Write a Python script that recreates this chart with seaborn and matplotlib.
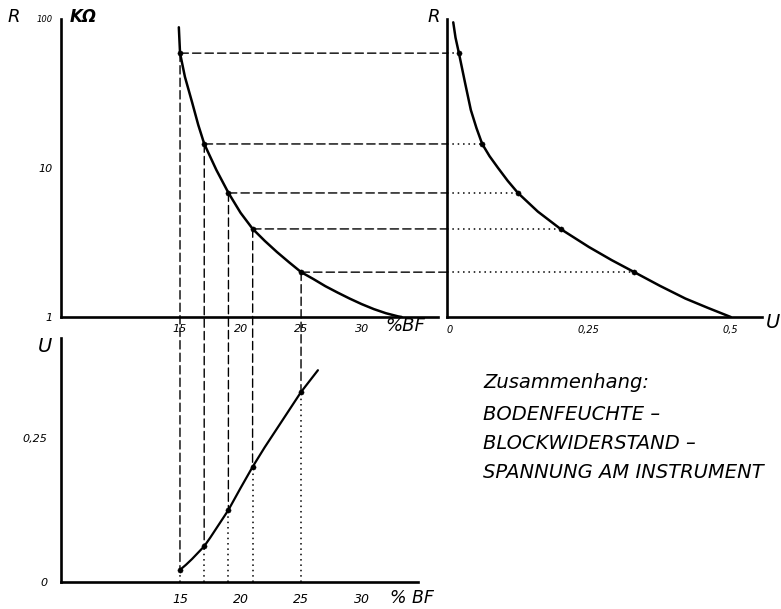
import numpy as np
import pandas as pd
import matplotlib
matplotlib.use("Agg")
import matplotlib.pyplot as plt
import seaborn as sns
from matplotlib.patches import ConnectionPatch
from matplotlib.ticker import FixedLocator, NullFormatter

# ---- data ----
bf_pts = [15, 17, 19, 21, 25]              # Bodenfeuchte %
r_pts = [59, 14.5, 6.8, 3.9, 2.0]          # Blockwiderstand kOhm
u_pts = [0.021, 0.062, 0.125, 0.20, 0.33]  # Spannung

curve1_bf = [14.9, 15.0, 15.4, 16, 16.5, 17, 18, 19, 20, 21, 22, 23, 24, 25,
             26, 27, 28, 29, 30, 31, 32, 33, 33.3]
curve1_r = [88, 59, 41, 27.5, 19.5, 14.5, 9.7, 6.8, 5.0, 3.9, 3.24, 2.73, 2.33, 2.0,
            1.8, 1.61, 1.46, 1.33, 1.22, 1.13, 1.06, 1.01, 1.0]

curve2_u = [0.011, 0.015, 0.021, 0.032, 0.042, 0.052, 0.062, 0.075, 0.09, 0.107, 0.125,
            0.16, 0.20, 0.25, 0.29, 0.33, 0.375, 0.42, 0.46, 0.5]
curve2_r = [95, 75, 59, 37, 24.5, 18.5, 14.5, 12.0, 10.0, 8.2, 6.8,
            5.1, 3.9, 2.95, 2.41, 2.0, 1.62, 1.33, 1.15, 1.0]

curve3_bf = [15, 15.5, 16, 16.5, 17, 17.5, 18, 18.5, 19, 20, 21, 22, 23, 24, 25, 26.4]
curve3_u = [0.021, 0.030, 0.040, 0.051, 0.062, 0.077, 0.093, 0.109, 0.125, 0.163, 0.20,
            0.234, 0.266, 0.298, 0.33, 0.368]

bf_ticks = [15, 20, 25, 30]
u_ticks_top = [0, 0.25, 0.5]
u_tick_labels_top = ["0", "0,25", "0,5"]
u_ticks_bot = [0, 0.25]
u_tick_labels_bot = ["0", "0,25"]
r_ticks = [1, 10, 100]
r_tick_labels = ["1", "10", "100"]

caption_title = "Zusammenhang:"
text_lines = ["BODENFEUCHTE –", "BLOCKWIDERSTAND –", "SPANNUNG AM INSTRUMENT"]

sns.set_style("white")
plt.rcParams["font.family"] = ["DejaVu Sans"]
plt.rcParams["text.color"] = "black"
plt.rcParams["xtick.color"] = "black"
plt.rcParams["ytick.color"] = "black"

W, H = 781, 609
fig = plt.figure(figsize=(W / 100, H / 100), dpi=100)

def box(x0, y0, x1, y1):
    return [x0 / W, 1 - y1 / H, (x1 - x0) / W, (y1 - y0) / H]

ax1 = fig.add_axes(box(61, 19, 438, 317))
ax2 = fig.add_axes(box(447, 19, 762, 317))
ax3 = fig.add_axes(box(61, 338, 418, 582))

K = "black"
LW_AX = 1.9
for ax in (ax1, ax2, ax3):
    ax.set_facecolor("white")
    for s in ("top", "right"):
        ax.spines[s].set_visible(False)
    for s in ("left", "bottom"):
        ax.spines[s].set_linewidth(LW_AX)
        ax.spines[s].set_color(K)
    ax.tick_params(which="both", direction="inout", color=K, width=1.0, labelcolor=K)
    ax.tick_params(which="major", length=4)
    ax.tick_params(which="minor", length=3)

# ---- panel 1: R vs %BF (log) ----
ax1.set_yscale("log")
ax1.set_xlim(5.17, 36.3)
ax1.set_ylim(1, 100)
d1 = pd.DataFrame({"bf": curve1_bf, "r": curve1_r})
sns.lineplot(data=d1, x="bf", y="r", ax=ax1, color=K, lw=1.8, sort=False, estimator=None)
sns.scatterplot(x=bf_pts, y=r_pts, ax=ax1, color=K, s=14, edgecolor=K, zorder=5)
ax1.set_xticks(bf_ticks)
ax1.set_xticklabels([str(t) for t in bf_ticks], fontsize=8, style="italic")
ax1.yaxis.set_major_locator(FixedLocator(r_ticks))
ax1.set_yticklabels(r_tick_labels, fontsize=8, style="italic")
ax1.yaxis.get_ticklabels()[2].set_fontsize(6)
ax1.yaxis.set_minor_locator(FixedLocator([m * 10 ** e for e in (0, 1) for m in range(2, 10)]))
ax1.yaxis.set_minor_formatter(NullFormatter())
ax1.tick_params(axis="x", pad=3)
ax1.tick_params(axis="y", pad=4)
ax1.set_xlabel("")
ax1.set_ylabel("")
fig.text(385 / W, 1 - 326 / H, "%BF", fontsize=13, style="italic", ha="left", va="center")
fig.text(8 / W, 1 - 17 / H, "R", fontsize=13, style="italic", ha="left", va="center")
fig.text(70 / W, 1 - 17 / H, "KΩ", fontsize=12, style="italic", weight="bold",
         ha="left", va="center")

# ---- panel 2: R vs U (log) ----
ax2.set_yscale("log")
ax2.set_xlim(0, 0.555)
ax2.set_ylim(1, 100)
d2 = pd.DataFrame({"u": curve2_u, "r": curve2_r})
sns.lineplot(data=d2, x="u", y="r", ax=ax2, color=K, lw=1.8, sort=False, estimator=None)
sns.scatterplot(x=u_pts, y=r_pts, ax=ax2, color=K, s=14, edgecolor=K, zorder=5)
ax2.set_xticks(u_ticks_top)
ax2.set_xticklabels(u_tick_labels_top, fontsize=7, style="italic")
ax2.get_xticklabels()[0].set_horizontalalignment("left")
ax2.yaxis.set_major_locator(FixedLocator(r_ticks))
ax2.yaxis.set_minor_locator(FixedLocator([m * 10 ** e for e in (0, 1) for m in range(2, 10)]))
ax2.yaxis.set_major_formatter(NullFormatter())
ax2.yaxis.set_minor_formatter(NullFormatter())
ax2.tick_params(axis="x", pad=4)
ax2.set_xlabel("")
ax2.set_ylabel("")
fig.text(428 / W, 1 - 17 / H, "R", fontsize=13, style="italic", ha="left", va="center")
fig.text(766 / W, 1 - 322 / H, "U", fontsize=14, style="italic", ha="left", va="center")

# ---- panel 3: U vs %BF ----
ax3.set_xlim(5.17, 34.67)
ax3.set_ylim(0, 0.424)
d3 = pd.DataFrame({"bf": curve3_bf, "u": curve3_u})
sns.lineplot(data=d3, x="bf", y="u", ax=ax3, color=K, lw=1.6, sort=False, estimator=None)
sns.scatterplot(x=bf_pts, y=u_pts, ax=ax3, color=K, s=14, edgecolor=K, zorder=5)
ax3.set_xticks(bf_ticks)
ax3.set_xticklabels([str(t) for t in bf_ticks], fontsize=9, style="italic")
ax3.set_yticks(u_ticks_bot)
ax3.set_yticklabels(u_tick_labels_bot, fontsize=8, style="italic")
ax3.tick_params(axis="x", pad=6)
ax3.tick_params(axis="y", pad=8)
ax3.set_xlabel("")
ax3.set_ylabel("")
fig.text(390 / W, 1 - 598 / H, "% BF", fontsize=12.5, style="italic", ha="left", va="center")
fig.text(38 / W, 1 - 346 / H, "U", fontsize=14, style="italic", ha="left", va="center")

# ---- construction lines ----
dash = (0, (6, 3))
dot = (0, (1, 2.5))
for bf, r, u in zip(bf_pts, r_pts, u_pts):
    con_h = ConnectionPatch(xyA=(bf, r), coordsA=ax1.transData,
                            xyB=(0, r), coordsB=ax2.transData,
                            linestyle=dash, lw=1.0, color=K)
    fig.add_artist(con_h)
    ax2.plot([0, u], [r, r], linestyle=dot, lw=1.1, color=K, clip_on=False)
    con_v = ConnectionPatch(xyA=(bf, r), coordsA=ax1.transData,
                            xyB=(bf, u), coordsB=ax3.transData,
                            linestyle=dash, lw=1.0, color=K)
    fig.add_artist(con_v)
    ax3.plot([bf, bf], [0, u], linestyle=dot, lw=1.1, color=K, clip_on=False)

# ---- caption ----
fig.text(483 / W, 1 - 383 / H, caption_title, fontsize=14, style="italic",
         ha="left", va="center")
for i, line in enumerate(text_lines):
    fig.text(483 / W, 1 - (415 + 28.5 * i) / H, line, fontsize=14, style="italic",
             ha="left", va="center")

fig.savefig("out.png", dpi=100, facecolor="white")
